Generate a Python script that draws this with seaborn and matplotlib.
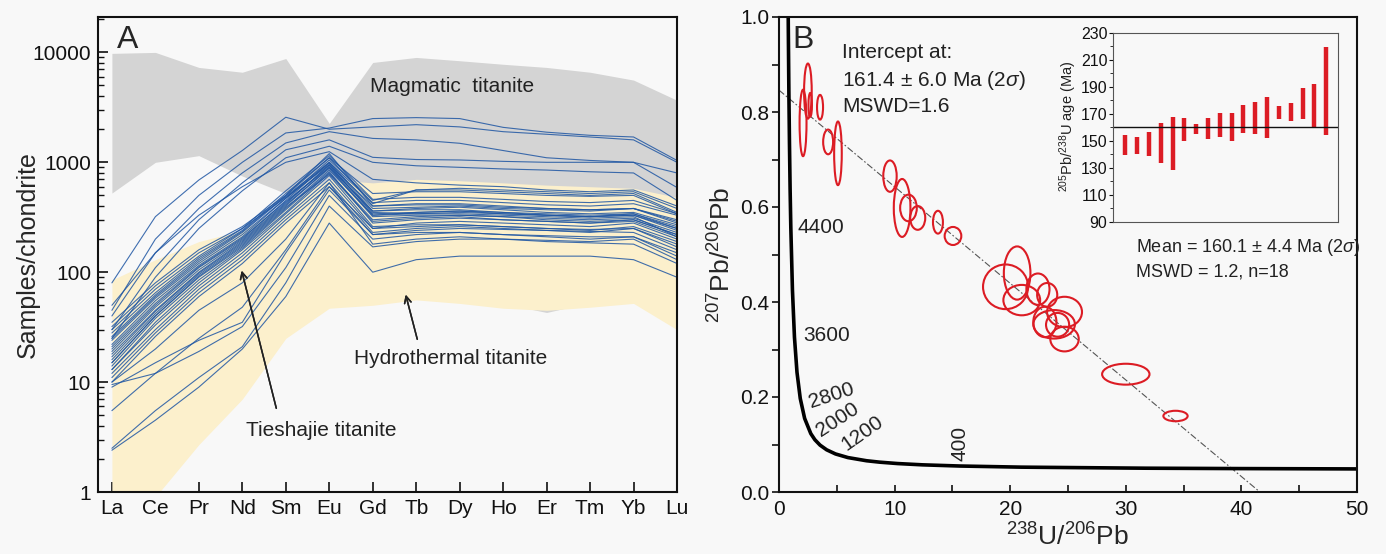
import pandas as pd
import seaborn as sns
import matplotlib.pyplot as plt
from matplotlib.patches import Ellipse

# ---- panel A: REE patterns ----
ree = ["La", "Ce", "Pr", "Nd", "Sm", "Eu", "Gd", "Tb", "Dy", "Ho", "Er", "Tm", "Yb", "Lu"]

magmatic_upper = [9800, 10000, 7300, 6600, 8800, 2260, 8100, 9000, 8400, 7800, 7300, 6600, 5600, 3670]
magmatic_lower = [525, 1000, 1150, 750, 520, 60, 62, 62, 58, 52, 43, 53, 58, 36]
hydro_upper = [85, 130, 190, 240, 420, 700, 650, 700, 680, 650, 620, 600, 580, 480]
hydro_lower = [0.9, 0.9, 2.7, 7, 25, 47, 50, 56, 52, 47, 45, 48, 52, 30]

high_group = [
    [80, 320, 690, 1280, 2570, 2000, 2100, 2200, 2100, 1900, 1800, 1700, 1600, 1000],
    [45, 200, 500, 1000, 1850, 2050, 2500, 2550, 2500, 2080, 1880, 1760, 1700, 1040],
    [40, 150, 380, 800, 1500, 1900, 1650, 1600, 1490, 1280, 1100, 1040, 1000, 800],
    [30, 110, 300, 650, 1300, 1600, 1110, 1060, 1050, 1020, 1000, 1000, 1000, 590],
    [25, 90, 250, 550, 1100, 1400, 1000, 930, 900, 870, 850, 820, 800, 450],
    [50, 150, 330, 600, 1000, 1250, 700, 650, 620, 600, 560, 540, 560, 400],
]
main_group = [
    [12, 30, 70, 140, 320, 700, 250, 280, 290, 280, 270, 260, 280, 200],
    [13, 35, 80, 160, 350, 800, 300, 320, 330, 320, 300, 290, 300, 220],
    [15, 40, 90, 170, 380, 850, 330, 350, 360, 350, 330, 320, 330, 250],
    [16, 42, 95, 180, 400, 900, 360, 380, 390, 370, 350, 340, 350, 270],
    [18, 45, 100, 190, 420, 950, 400, 420, 420, 400, 380, 370, 380, 300],
    [20, 50, 110, 200, 450, 1000, 430, 450, 450, 430, 410, 400, 420, 330],
    [22, 55, 115, 210, 470, 1050, 450, 560, 560, 540, 520, 500, 520, 350],
    [14, 38, 85, 165, 370, 820, 280, 300, 310, 300, 290, 280, 290, 210],
    [17, 44, 98, 185, 410, 880, 320, 330, 330, 320, 310, 300, 310, 230],
    [19, 48, 105, 195, 430, 930, 350, 340, 350, 340, 330, 320, 330, 240],
    [25, 60, 125, 230, 490, 1000, 380, 390, 400, 380, 370, 360, 380, 280],
    [28, 65, 135, 240, 520, 1100, 420, 560, 580, 560, 540, 520, 540, 380],
    [30, 70, 140, 250, 550, 1150, 460, 480, 480, 460, 440, 430, 450, 340],
    [11, 28, 65, 130, 300, 650, 230, 250, 260, 250, 240, 230, 250, 180],
    [13, 33, 75, 150, 340, 760, 260, 270, 270, 260, 250, 240, 260, 190],
    [24, 58, 120, 220, 470, 980, 360, 370, 370, 350, 340, 330, 340, 260],
    [21, 52, 112, 205, 440, 900, 330, 340, 340, 330, 320, 310, 320, 210],
    [35, 80, 160, 260, 500, 1100, 520, 540, 540, 520, 500, 490, 500, 340],
    [10, 26, 60, 120, 280, 600, 220, 230, 230, 220, 210, 200, 210, 150],
    [26, 62, 130, 235, 500, 1200, 400, 410, 410, 390, 380, 370, 380, 290],
    [15, 40, 92, 175, 390, 780, 290, 310, 320, 300, 290, 280, 300, 220],
    [32, 75, 150, 250, 480, 950, 340, 350, 360, 340, 330, 320, 340, 250],
]
low_group = [
    [2.4, 4.5, 9, 20, 60, 280, 100, 130, 140, 140, 140, 140, 130, 90],
    [2.5, 5.5, 11, 21, 80, 400, 170, 190, 200, 200, 190, 185, 180, 120],
    [9.5, 12, 19, 32, 110, 500, 200, 220, 230, 220, 215, 210, 210, 140],
    [9, 15, 24, 35, 150, 560, 220, 240, 250, 245, 240, 235, 230, 160],
    [5.5, 12, 25, 48, 160, 600, 250, 260, 270, 260, 250, 245, 250, 170],
    [10, 20, 45, 80, 200, 650, 180, 200, 210, 200, 195, 190, 200, 130],
]

# ---- panel B: Tera-Wasserburg ----
conc_x = [0.795, 0.806, 0.853, 0.905, 0.960, 1.022, 1.163, 1.337, 1.556, 1.838, 2.217, 2.749,
          3.104, 3.550, 4.123, 4.888, 5.959, 7.570, 8.718, 10.25, 12.40, 15.62, 20.99, 31.73,
          39.79, 49.87, 51.0]
conc_y = [1.009, 0.974, 0.845, 0.735, 0.639, 0.557, 0.425, 0.326, 0.252, 0.197, 0.155, 0.123,
          0.110, 0.0987, 0.0888, 0.0801, 0.0725, 0.0658, 0.0628, 0.0599, 0.0572, 0.0547, 0.0523,
          0.0501, 0.0493, 0.0486, 0.0485]
conc_labels = ["4400", "3600", "2800", "2000", "1200", "400"]
conc_label_x = [1.6, 2.1, 4.5, 5.1, 7.2, 15.7]
conc_label_y = [0.556, 0.33, 0.202, 0.152, 0.124, 0.103]
conc_label_rot = [0, 0, 18, 33, 35, 90]

discordia_x = [0.0, 41.6]
discordia_y = [0.846, 0.0]

ell_x = [2.08, 2.5, 2.7, 3.55, 4.25, 5.1, 9.6, 10.65, 11.2, 12.0, 13.75, 15.05,
         20.6, 19.6, 21.0, 22.4, 23.2, 24.7, 23.0, 23.8, 24.1, 24.7, 30.0, 34.3]
ell_y = [0.777, 0.844, 0.815, 0.81, 0.737, 0.713, 0.665, 0.598, 0.598, 0.577, 0.568, 0.539,
         0.461, 0.432, 0.404, 0.427, 0.415, 0.379, 0.358, 0.353, 0.352, 0.322, 0.248, 0.160]
ell_hw = [0.3, 0.33, 0.15, 0.26, 0.43, 0.33, 0.58, 0.72, 0.72, 0.65, 0.43, 0.72,
          1.15, 1.95, 1.59, 1.0, 0.87, 1.51, 1.0, 1.8, 1.0, 1.23, 2.05, 1.05]
ell_hh = [0.070, 0.058, 0.025, 0.026, 0.026, 0.067, 0.033, 0.061, 0.028, 0.025, 0.024, 0.019,
          0.056, 0.047, 0.032, 0.033, 0.025, 0.032, 0.032, 0.030, 0.025, 0.026, 0.022, 0.011]

# ---- inset: weighted mean ages ----
age_high = [154.4, 153.2, 156.4, 163.6, 168.1, 166.8, 162.4, 166.8, 170.5, 171.0, 176.7, 179.2,
            182.9, 176.0, 178.0, 189.6, 192.3, 219.3]
age_low = [139.6, 140.3, 138.8, 133.9, 128.4, 150.2, 155.2, 151.2, 153.2, 150.2, 155.7, 154.9,
           152.0, 166.1, 164.6, 166.1, 160.6, 154.4]
mean_age = 160.1

bg = "#f8f8f8"
blue = "#1f56a3"
red = "#dc1c24"

sns.set_theme(style="ticks")
plt.rcParams["font.family"] = ["Liberation Sans", "DejaVu Sans"]
plt.rcParams["mathtext.fontset"] = "custom"
plt.rcParams["mathtext.rm"] = "Liberation Sans"
plt.rcParams["mathtext.it"] = "Liberation Sans:italic"
plt.rcParams["axes.edgecolor"] = "#111111"
plt.rcParams["xtick.color"] = "#111111"
plt.rcParams["ytick.color"] = "#111111"

W, H = 1386, 554
fig = plt.figure(figsize=(W / 100, H / 100), dpi=100, facecolor=bg)


def box(l, t, r, b):
    return [l / W, 1 - b / H, (r - l) / W, (b - t) / H]


def fp(x, y):
    return (x / W, 1 - y / H)


axA = fig.add_axes(box(98, 17, 677, 492), facecolor=bg)
axB = fig.add_axes(box(779, 17, 1357, 492), facecolor=bg)
axI = fig.add_axes(box(1113, 33, 1338, 222), facecolor=bg)

# panel A
pos = list(range(len(ree)))
axA.fill_between(pos, magmatic_lower, magmatic_upper, color="#d4d4d4", lw=0, zorder=1)
axA.fill_between(pos, hydro_lower, hydro_upper, color="#fcf0cc", lw=0, zorder=2)

rows = []
for i, s in enumerate(high_group + main_group + low_group):
    for j, v in enumerate(s):
        rows.append({"sample": i, "pos": j, "value": v})
df = pd.DataFrame(rows)
sns.lineplot(data=df, x="pos", y="value", units="sample", estimator=None,
             color=blue, linewidth=0.8, alpha=0.85, ax=axA, zorder=3)

axA.set_yscale("log")
axA.set_ylim(1, 21000)
axA.set_xlim(-0.32, 13.0)
axA.set_xticks(pos)
axA.set_xticklabels(ree, fontsize=15)
axA.set_yticks([1, 10, 100, 1000, 10000])
axA.set_yticklabels(["1", "10", "100", "1000", "10000"], fontsize=15)
axA.tick_params(axis="both", which="major", direction="in", length=7, width=1.2, pad=5)
axA.tick_params(axis="y", which="minor", direction="in", length=4, width=1)
axA.set_xlabel("")
axA.set_ylabel("")
for sp in axA.spines.values():
    sp.set_linewidth(1.5)
    sp.set_zorder(5)

fig.text(*fp(28, 255), "Samples/chondrite", rotation=90, fontsize=18, ha="center", va="center")
fig.text(*fp(117, 40), "A", fontsize=23, ha="left", va="center")
fig.text(*fp(370, 86), "Magmatic  titanite", fontsize=15, ha="left", va="center", color="#222222")
fig.text(*fp(354, 358), "Hydrothermal titanite", fontsize=15, ha="left", va="center", color="#222222")
fig.text(*fp(246, 430), "Tieshajie titanite", fontsize=15, ha="left", va="center", color="#222222")
fig.add_artist(plt.annotate("", xy=fp(405, 292), xytext=fp(418, 342), xycoords="figure fraction",
                            arrowprops=dict(arrowstyle="->", lw=1.1, color="#222222")))
fig.add_artist(plt.annotate("", xy=fp(241, 268), xytext=fp(277, 411), xycoords="figure fraction",
                            arrowprops=dict(arrowstyle="->", lw=1.1, color="#222222")))

# panel B
conc = pd.DataFrame({"x": conc_x, "y": conc_y})
sns.lineplot(data=conc, x="x", y="y", color="black", linewidth=2.6, ax=axB, zorder=3)
disc = pd.DataFrame({"x": discordia_x, "y": discordia_y})
sns.lineplot(data=disc, x="x", y="y", color="#555555", linewidth=0.8, ax=axB,
             linestyle=(0, (6, 2, 1.5, 2)), zorder=2)
for x, y, hw, hh in zip(ell_x, ell_y, ell_hw, ell_hh):
    axB.add_patch(Ellipse((x, y), 2 * hw, 2 * hh, fill=False, edgecolor=red, lw=1.5, zorder=4))
for lab, x, y, r in zip(conc_labels, conc_label_x, conc_label_y, conc_label_rot):
    ha = "left" if r == 0 else "center"
    axB.text(x, y, lab, fontsize=15, rotation=r, ha=ha, va="center", color="#222222")

axB.set_xlim(0, 50)
axB.set_ylim(0, 1.0)
axB.set_xticks([0, 10, 20, 30, 40, 50])
axB.set_xticks([5, 15, 25, 35, 45], minor=True)
axB.set_yticks([0, 0.2, 0.4, 0.6, 0.8, 1.0])
axB.set_yticks([0.1, 0.3, 0.5, 0.7, 0.9], minor=True)
axB.set_xticklabels(["0", "10", "20", "30", "40", "50"], fontsize=15)
axB.set_yticklabels(["0.0", "0.2", "0.4", "0.6", "0.8", "1.0"], fontsize=15)
axB.tick_params(axis="x", which="both", direction="in", length=5, width=1.2, pad=6)
axB.tick_params(axis="y", which="both", direction="out", length=5, width=1.2, pad=2)
axB.set_xlabel("")
axB.set_ylabel("")
for sp in axB.spines.values():
    sp.set_linewidth(1.5)
    sp.set_zorder(5)

fig.text(*fp(722, 255), r"$^{207}$Pb/$^{206}$Pb", rotation=90, fontsize=19, ha="center", va="center")
fig.text(*fp(1068, 537), r"$^{238}$U/$^{206}$Pb", fontsize=19, ha="center", va="center")
fig.text(*fp(792, 40), "B", fontsize=23, ha="left", va="center")
fig.text(*fp(842, 52), "Intercept at:", fontsize=15, ha="left", va="center", color="#222222")
fig.text(*fp(842, 80), r"161.4 ± 6.0 Ma (2$\sigma$)", fontsize=15, ha="left", va="center", color="#222222")
fig.text(*fp(842, 107), "MSWD=1.6", fontsize=15, ha="left", va="center", color="#222222")
fig.text(*fp(1136, 248), r"Mean = 160.1 ± 4.4 Ma (2$\sigma$)", fontsize=13, ha="left", va="center", color="#222222")
fig.text(*fp(1136, 272), "MSWD = 1.2, n=18", fontsize=13, ha="left", va="center", color="#222222")

# inset
idx = list(range(len(age_high)))
axI.vlines(idx, age_low, age_high, color=red, lw=3.2)
axI.axhline(mean_age, color="#111111", lw=1)
axI.set_xlim(-1.04, 18.0)
axI.set_ylim(90, 230)
axI.set_xticks([])
axI.set_yticks(range(90, 231, 20))
axI.set_yticks(range(100, 230, 20), minor=True)
axI.tick_params(axis="y", which="major", direction="out", length=3, width=0.8, labelsize=11.5, pad=1)
axI.tick_params(axis="y", which="minor", direction="out", length=2, width=0.6)
for sp in axI.spines.values():
    sp.set_linewidth(0.8)
    sp.set_color("#555555")
fig.text(*fp(1068, 126), r"$^{205}$Pb/$^{238}$U age (Ma)", rotation=90, fontsize=10.5,
         ha="center", va="center", color="#222222")

fig.savefig("out.png", dpi=100, facecolor=bg)
